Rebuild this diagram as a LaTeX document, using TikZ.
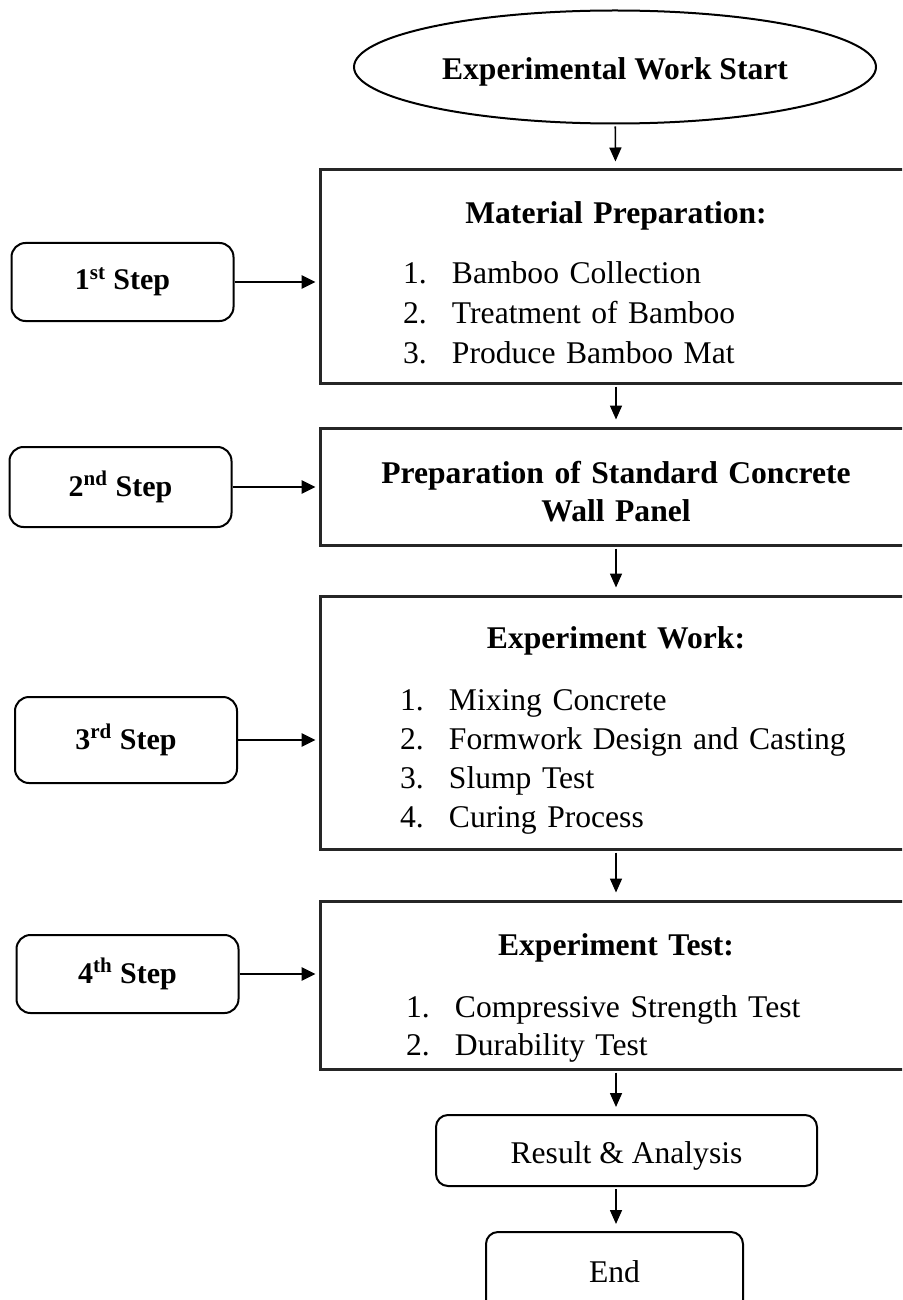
\documentclass[tikz,border=0pt]{standalone}
\usepackage{fontspec}
\setmainfont{Liberation Serif}
\usetikzlibrary{shapes.geometric, arrows.meta, positioning}

\newcommand{\listentry}[2]{\par\makebox[24.5pt][l]{#1.}#2}
\newcommand{\topgap}[1]{\vrule width 0pt height \dimexpr 0.72em+#1\relax}

\begin{document}
\begin{tikzpicture}[
            x=0.5pt, y=-0.5pt,
            every node/.style={font=\fontsize{15.8}{19.5}\selectfont},
            startnode/.style={ellipse, draw=black, line width=1pt, minimum width=261pt, minimum height=56.5pt, inner sep=0pt, font=\fontsize{15.8}{19.5}\selectfont\bfseries},
            mainbox/.style={rectangle, draw=black!85, line width=1.5pt, text width=296pt, inner xsep=0pt, inner ysep=2pt},
            stepbox/.style={rectangle, rounded corners=7pt, draw=black, line width=1pt, minimum width=111pt, font=\fontsize{15}{18}\selectfont\bfseries},
            endbox/.style={rectangle, rounded corners=6pt, draw=black, line width=1pt},
            arrow/.style={-{Triangle[length=7pt,width=6pt]}, line width=0.8pt, shorten >=3.5pt, shorten <=1pt},
            sidearrow/.style={-{Triangle[length=7pt,width=6.5pt]}, line width=1.4pt, shorten >=1.5pt}
        ]
            \useasboundingbox (0,0) rectangle (902,1300);
            \clip (0,0) rectangle (902,1300);

            % Start
            \node[startnode] (start) at (615,67) {\raisebox{-2.5pt}[\height][\depth]{Experimental Work Start}};

            % Main boxes
            \node[mainbox, minimum height=106.5pt] (mat) at (616,276.5) {\baselineskip=20pt
                {\centering\bfseries\topgap{5.5pt}Material Preparation:\par}\vspace{10pt}\raggedright\leftskip=41.5pt
                \listentry{1}{Bamboo Collection}
                \listentry{2}{Treatment of Bamboo}
                \listentry{3}{Produce Bamboo Mat}\par};
            \node[mainbox, minimum height=58.5pt] (prep) at (616,486.5) {\baselineskip=19pt
                {\centering\bfseries\topgap{5pt}Preparation of Standard Concrete\\Wall Panel\par}};
            \node[mainbox, minimum height=126.5pt] (work) at (616,722.5) {
                {\centering\bfseries\topgap{7.5pt}Experiment Work:\par}\vspace{11.5pt}\raggedright\leftskip=40pt
                \listentry{1}{Mixing Concrete}
                \listentry{2}{Formwork Design and Casting}
                \listentry{3}{Slump Test}
                \listentry{4}{Curing Process}\par};
            \node[mainbox, minimum height=84pt] (test) at (616,985) {\baselineskip=19pt
                {\centering\bfseries\topgap{13pt}Experiment Test:\par}\vspace{12pt}\raggedright\leftskip=43pt
                \listentry{1}{Compressive Strength Test}
                \listentry{2}{Durability Test}\par};

            % Result and end
            \node[endbox, minimum width=190.5pt, minimum height=35.5pt] (result) at (626.5,1150.5) {\raisebox{-2.5pt}[\height][\depth]{Result \& Analysis}};
            \node[endbox, minimum width=128.5pt, minimum height=40pt] (finish) at (614.5,1272) {End};

            % Steps
            \node[stepbox, minimum height=39pt] (s1) at (122.5,282) {1\textsuperscript{st} Step};
            \node[stepbox, minimum height=40pt] (s2) at (120.5,487) {2\textsuperscript{nd} Step};
            \node[stepbox, minimum height=43pt] (s3) at (126,740) {3\textsuperscript{rd} Step};
            \node[stepbox, minimum height=39pt] (s4) at (127.5,974) {4\textsuperscript{th} Step};

            % Connections
            \draw[arrow] (start) -- (mat);
            \draw[arrow] (mat) -- (prep);
            \draw[arrow] (prep) -- (work);
            \draw[arrow] (work) -- (test);
            \draw[arrow] (test.south) -- (test.south |- result.north);
            \draw[arrow] (result.south -| test.south) -- (test.south |- finish.north);
            \draw[sidearrow] (s1) -- (s1 -| mat.west);
            \draw[sidearrow] (s2) -- (s2 -| prep.west);
            \draw[sidearrow] (s3) -- (s3 -| work.west);
            \draw[sidearrow] (s4) -- (s4 -| test.west);
        \end{tikzpicture}
\end{document}
